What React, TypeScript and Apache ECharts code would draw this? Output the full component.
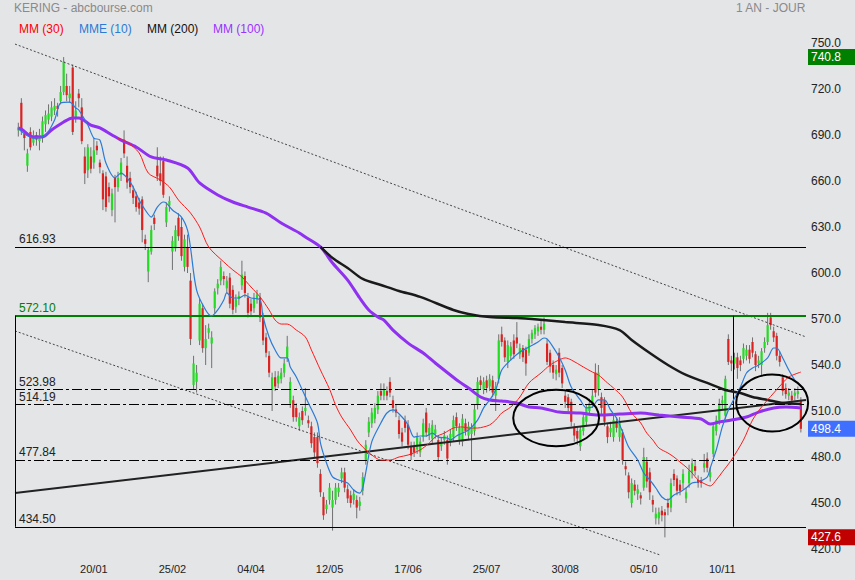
import React, { useEffect, useRef } from 'react';
import * as echarts from 'echarts';

// Daily candles [open, close, low, high], 16/12/2021 .. 16/12/2022 (index = trading day)
const ohlc: number[][] = [
  [693,695,689,698],[711,693,690,714],[691,688,680,693],[670,678,666,681],[692,682,680,695],
  [685,690,683,693],[690,687,683,692],[686,690,680,694],[688,699,685,702],[697,703,692,706],
  [700,704,697,710],[702,708,699,712],[706,709,703,714],[709,707,702,711],[712,718,710,722],
  [718,738,716,740.8],[722,716,712,730],[714,717,711,722],[734,692,690,736],[701,706,698,712],
  [717,714,708,720],[708,686,684,714],[676,665,658,682],[667,682,662,684],[676,668,665,682],
  [672,680,668,688],[683,680,677,686],[672,669,665,674],[665,648,641,667],[663,643,640,666],
  [656,650,646,659],[641,652,637,655],[662,656,633,664],[656,662,653,666],[664,672,660,675],
  [687,678,675,693],[670,659,655,676],[662,656,652,666],[654,649,645,657],[650,643,640,653],
  [646,642,638,649],[648,628,620,650],[622,619,615,625],[601,615,594,617],[614,628,612,631],
  [636,632,628,638],[670,663,660,682],[665,660,657,676],[673,651,649,676],[633,643,630,646],
  [644,647,640,650],[614,621,602,624],[616,628,614,631],[636,624,621,639],[630,611,608,636],
  [604,622,601,625],[617,604,600,625],[595,557,553,600],[527,541,524,546],[529,535,522,540],
  [556,580,553,583],[577,551,548,580],[551,557,540,566],[561,564,557,567],[554,558,538,562],
  [577,588,574,590],[590,593,586,596],[595,604,592,608],[598,596,592,601],[590,595,587,598],
  [597,580,577,600],[589,576,573,592],[578,583,574,586],[583,585,579,588],[592,599,589,608],
  [598,587,584,601],[584,574,571,587],[580,575,572,583],[577,584,574,587],[583,586,580,589],
  [584,571,568,587],[571,556,553,574],[558,548,545,561],[546,535,532,549],[524,532,510,535],
  [532,526,523,536],[528,533,525,536],[531,535,528,538],[535,541,532,544],[545,552,542,559],
  [515,529,512,532],[517,506,503,520],[512,506,503,515],[500,506,497,509],[510,504,501,513],
  [510,512,507,525],[504,502,499,507],[500,489,486,503],[493,483,480,496],[493,476,473,496],
  [469,457,454,472],[454,442,439,457],[446,449,443,452],[452,460,449,463],[447,452,432,458],
  [452,460,449,463],[457,460,454,463],[466,470,463,473],[470,460,457,473],[459,453,450,462],
  [455,450,447,458],[452,456,449,459],[452,447,440,455],[448,451,445,454],[458,467,455,470],
  [478,488,475,491],[496,503,493,506],[502,509,499,512],[505,512,502,515],[511,520,508,523],
  [523,520,517,528],[520,524,517,528],[523,520,517,526],[529,522,519,532],[517,512,509,520],
  [511,509,506,514],[504,495,492,507],[496,490,487,499],[504,499,496,507],[501,488,485,504],
  [487,481,478,490],[487,483,480,490],[485,493,482,496],[483,490,480,493],[493,502,490,505],
  [509,496,493,512],[494,499,491,502],[492,501,489,504],[495,498,492,501],[491,480,477,494],
  [487,490,484,493],[491,494,488,497],[491,479,475,494],[490,495,487,498],[493,504,490,507],
  [506,500,497,509],[491,499,488,502],[490,505,487,508],[502,497,494,505],[494,500,491,503],
  [495,499,478,502],[497,511,494,514],[514,529,511,532],[530,527,524,533],[524,529,521,532],
  [530,525,522,533],[526,531,523,534],[530,522,519,533],[520,526,510,529],[531,556,528,560],
  [560,555,552,565],[556,545,542,558],[542,553,538,556],[546,552,543,555],[556,547,544,560],
  [558,554,551,568],[547,551,544,554],[551,545,542,553],[550,541,533,552],[548,557,546,560],
  [557,561,554,563],[560,564,557,566],[562,565,559,567],[565,563,560,569],[563,567,560,571],
  [554,542,540,557],[548,539,535,550],[540,535,531,543],[534,537,530,540],[548,535,532,551],
  [538,528,525,540],[520,516,512,523],[519,512,510,521],[516,503,500,518],[499,494,490,502],
  [497,492,488,500],[487,498,484,500],[497,506,494,508],[503,512,500,514],[510,515,507,518],
  [515,520,512,524],[535,522,519,541],[524,535,520,540],[519,512,508,522],[517,503,500,519],
  [500,493,489,502],[496,499,493,503],[493,504,490,507],[503,499,496,506],[493,503,490,506],
  [496,478,475,498],[474,472,468,477],[468,457,453,470],[450,463,447,466],[462,458,455,465],
  [456,459,452,462],[455,453,449,457],[460,480,458,486],[477,464,460,480],[470,457,452,473],
  [452,449,444,455],[440,443,436,447],[440,444,436,447],[445,442,438,448],[444,442,427.6,446],
  [450,447,442,453],[447,463,444,466],[469,465,461,472],[466,458,455,468],[462,458,455,465],
  [463,469,459,472],[453,457,450,460],[463,471,460,475],[470,476,466,479],[474,471,468,478],
  [465,463,460,468],[465,463,460,467],[473,476,470,482],[479,473,470,483],[467,470,464,473],
  [482,500,480,502],[497,504,494,507],[504,515,501,518],[515,517,511,520],[507,531,505,533],
  [557,542,540,560],[543,541,536,546],[541,545,537,548],[545,538,531,548],[543,540,536,546],
  [544,551,541,554],[546,550,543,553],[550,544,541,553],[555,548,545,558],[547,540,536,549],
  [541,543,538,546],[540,549,533,551],[551,555,548,558],[555,566,553,574],[571,566,563,574],
  [562,558,555,565],[559,546,543,561],[546,542,539,549],[532,523,520,534],[525,521,518,528],
  [520,522,517,525],[520,517,514,523],[520,522,517,525],[521,523,518,526],[517,498.4,496,519],
];

const tickIndex = [25, 51, 77, 103, 129, 155, 181, 207, 233];
const tickLabels = ['20/01', '25/02', '04/04', '12/05', '17/06', '25/07', '30/08', '05/10', '10/11'];

// Moving averages: [day index, value]
const mme10: number[][] = [
  [0,694],[5,688],[9,690],[12,699.8],[14,710.9],[17,711.5],[19,707.6],[20,706.3],[23,696.5],[25,688],
  [27,686.7],[29,671.7],[32,662],[34,665.2],[36,662],[38,656.1],[40,647.6],[42,641.1],[44,636.5],[46,643],
  [48,646.3],[49,645.6],[51,641.1],[54,636.5],[56,628],[57,616.3],[59,588.9],[62,575.9],[64,572],[66,575.9],
  [68,582.4],[69,587],[71,583.7],[73,583.7],[75,585.6],[77,583.7],[80,582.4],[81,571.3],[83,558.3],[85,549.8],
  [87,544.6],[89,544.6],[90,538.7],[92,532.2],[94,523.7],[96,515.2],[99,502.2],[100,489.1],[102,476.1],[104,467],
  [106,465],[109,463],[111,458.5],[113,456.5],[114,460],[115,470],[117,490],[120,502.2],[122,508.7],[124,510.7],
  [127,506.1],[129,500.9],[131,493],[133,493.7],[135,493.7],[137,495.6],[139,493],[142,492.4],[143,491.1],[145,493.7],
  [147,495.6],[149,497.6],[152,504.1],[154,512],[156,517.2],[158,523.7],[160,536.7],[163,543.3],[166,548.5],[169,551.7],
  [172,555],[174,557.6],[175,557],[177,551.7],[179,545.2],[181,536.7],[183,525.6],[186,517.2],[188,512],[190,512.6],
  [192,517.2],[194,517.2],[196,510.7],[198,505.4],[200,496.3],[202,486.5],[205,478],[207,469.6],[209,465],[211,459.8],
  [213,453.9],[215,452],[217,455.2],[219,457.2],[221,459.8],[223,463],[225,463.7],[228,466.9],[229,472.8],[231,484.6],
  [233,499.6],[235,510.7],[236,514.6],[239,525.6],[241,534.8],[243,538],[245,540],[248,544.6],[250,551.1],[251,551.1],
  [253,544.6],[255,536.7],[257,530.2],[259,526.3],
];
const mm30: number[][] = [
  [33,688],[36,685.4],[40,678.3],[43,665.2],[47,660.7],[50,656.1],[53,647.6],[57,639.1],[60,630],[63,617],
  [68,607.2],[71,602],[74,597.4],[77,590.9],[80,584.4],[83,575.9],[85,569.3],[87,566.7],[89,566.7],[92,562.8],
  [95,558.3],[97,549.8],[100,536.7],[103,524.3],[105,513.9],[107,506.1],[110,497.6],[112,491.1],[114,486.5],[117,481.3],
  [120,478],[123,478],[126,480],[129,481.3],[133,484.6],[136,489.1],[138,493],[141,495.6],[144,498.9],[147,499.6],
  [149,498.9],[152,498.9],[154,499.6],[156,500.9],[158,504.1],[160,508.7],[163,512.6],[166,519.1],[169,528.3],[173,534.8],
  [176,540],[179,543.3],[181,544.6],[183,543.3],[187,538.7],[190,535.4],[192,533.5],[195,528.3],[197,525],[200,519.1],
  [203,508.7],[206,502.2],[208,495.6],[210,491.1],[212,485.9],[215,482.6],[217,480],[219,476.7],[221,473.5],[223,469.6],
  [225,465],[228,461.7],[229,461.1],[231,465],[233,470.2],[236,478],[240,491.1],[243,504.1],[246,512.6],[250,521.7],
  [253,528.3],[255,532.2],[259,535.4],
];
const mm100: number[][] = [
  [0,694.6],[1,693.9],[5,688.7],[8,688.7],[11,693.3],[15,698.5],[18,701.1],[20,701.1],[24,696.5],[27,694.6],
  [31,690],[34,686.7],[39,682.2],[44,675.7],[49,673.7],[56,668.5],[60,658.7],[66,650.9],[71,646.3],[76,643],
  [82,639.1],[87,632.6],[93,626.1],[95,623.5],[100,617],[104,606.5],[109,595.4],[113,583.7],[116,575.9],[119,571.3],
  [121,569.3],[124,562.8],[129,554.3],[134,547.8],[138,541.3],[143,533.5],[146,529],[149,525],[153,519.1],[156,517.2],
  [160,516.5],[165,515.2],[169,512.6],[173,512],[179,509.3],[186,508.7],[192,507.4],[199,508],[206,508.7],[212,507.4],
  [219,506.1],[226,504.8],[229,501.5],[232,502.8],[236,504.1],[241,506.1],[245,509.3],[250,512],[254,512.6],[259,512],
];
const mm200: number[][] = [
  [100,617],[104,609.8],[109,603.3],[114,596.1],[120,592.2],[126,588.3],[133,584.4],[144,575.9],[149,573.3],[156,571.3],
  [165,570.6],[170,570],[181,568],[192,566.1],[199,562.8],[203,556.3],[209,547.8],[215,540],[221,533.5],[228,528.3],
  [234,523.7],[239,521.7],[243,519.1],[248,517.2],[253,515.2],[259,514.6],
];

// Drawn annotations (data coordinates)
const solidLevels = [616.93, 434.5];
const greenLevel = 572.1;
const dashDotLevels = [523.98, 514.19, 477.84];
const upperTrend = [[-1.1, 749.3], [260.7, 558.3]];
const lowerTrend = [[-1.1, 562.2], [212.4, 416.1]];
const supportTrend = [[-1.1, 456.5], [260.7, 517.2]];
const boxX = [-1.1, 236.6];
const ellipses = [
  { cx: 178, cy: 505.4, rx: 14.2, ry: 18.4 },
  { cx: 249.5, cy: 515.2, rx: 11.9, ry: 18.6 },
];

const X_MIN = -1.1;
const X_MAX = 260.7;
const FONT = 'Liberation Sans, Arial, sans-serif';

export default function App() {
  const ref = useRef<HTMLDivElement>(null);
  useEffect(() => {
    if (!ref.current) return;
    const chart = echarts.init(ref.current, null, { renderer: 'svg' });
    const candleData = ohlc.map((d, i) => [i, d[0], d[1], d[2], d[3]]);
    const lastClose = ohlc[ohlc.length - 1][1];
    const maxHigh = Math.max(...ohlc.map((d) => d[3]));
    const minLow = Math.min(...ohlc.map((d) => d[2]));

    const levelLabel = (color: string) => ({
      show: true,
      position: 'insideStartTop',
      formatter: (p: any) => p.value.toFixed(2),
      color,
      fontSize: 12,
      fontFamily: FONT,
      distance: [4, 2],
    });
    const tag = (v: number, bg: string) => ({
      yAxis: v,
      lineStyle: { color: 'rgba(0,0,0,0)', width: 1, opacity: 1 },
      label: {
        show: true,
        position: 'end',
        formatter: v.toFixed(1),
        color: '#fff',
        backgroundColor: bg,
        fontSize: 12,
        fontFamily: FONT,
        padding: [2, 14, 2, 3],
        distance: 2,
      },
    });
    const dashDot = [10, 3, 3, 3];

    const texts: any[] = [
      { type: 'text', left: 14, top: 2, style: { text: 'KERING - abcbourse.com', fill: '#8a8a8a', font: `12px ${FONT}` } },
      { type: 'text', right: 49, top: 2, style: { text: '1 AN - JOUR', fill: '#8a8a8a', font: `12px ${FONT}` } },
      { type: 'text', left: 19, top: 23, style: { text: 'MM (30)', fill: '#ff0000', font: `12px ${FONT}` } },
      { type: 'text', left: 79, top: 23, style: { text: 'MME (10)', fill: '#2b7bd6', font: `12px ${FONT}` } },
      { type: 'text', left: 147, top: 23, style: { text: 'MM (200)', fill: '#111111', font: `12px ${FONT}` } },
      { type: 'text', left: 213, top: 23, style: { text: 'MM (100)', fill: '#9933ff', font: `12px ${FONT}` } },
    ];

    const option: any = {
      animation: false,
      backgroundColor: '#e4e5e7',
      textStyle: { fontFamily: FONT },
      grid: { left: 15, top: 43, width: 791, height: 506 },
      xAxis: {
        type: 'value',
        min: X_MIN,
        max: X_MAX,
        axisLine: { show: false },
        axisTick: { show: false },
        splitLine: { show: false },
        axisLabel: {
          customValues: tickIndex,
          formatter: (v: number) => {
            const k = tickIndex.indexOf(Math.round(v));
            return k >= 0 ? tickLabels[k] : '';
          },
          color: '#222',
          fontSize: 11,
          margin: 14,
        },
      },
      yAxis: {
        type: 'value',
        position: 'right',
        min: 420,
        max: 750,
        interval: 30,
        axisLine: { show: false },
        axisTick: { show: false },
        splitLine: { show: false },
        axisLabel: { formatter: (v: number) => v.toFixed(1), color: '#222', fontSize: 12, margin: 5 },
      },
      graphic: texts,
      series: [
        {
          type: 'custom',
          name: 'KERING',
          data: candleData,
          encode: { x: 0, y: [1, 2, 3, 4] },
          z: 2,
          renderItem: (params: any, api: any) => {
            const x = api.value(0);
            const o = api.value(1);
            const c = api.value(2);
            const pO = api.coord([x, o]);
            const pC = api.coord([x, c]);
            const pL = api.coord([x, api.value(3)]);
            const pH = api.coord([x, api.value(4)]);
            const top = Math.min(pO[1], pC[1]);
            const h = Math.max(1, Math.abs(pO[1] - pC[1]));
            return {
              type: 'group',
              children: [
                { type: 'line', shape: { x1: pL[0], y1: pL[1], x2: pH[0], y2: pH[1] }, style: { stroke: '#707070', lineWidth: 1 } },
                { type: 'rect', shape: { x: pO[0] - 1.1, y: top, width: 2.2, height: h }, style: { fill: c >= o ? '#22dd22' : '#dd2222' } },
              ],
            };
          },
        },
        {
          type: 'line', name: 'upper', data: upperTrend, showSymbol: false, silent: true, z: 3,
          lineStyle: { color: '#444', width: 1, type: [2, 2] },
        },
        {
          type: 'line', name: 'lower', data: lowerTrend, showSymbol: false, silent: true, clip: false, z: 3,
          lineStyle: { color: '#444', width: 1, type: [2, 2] },
        },
        {
          type: 'line', name: 'support', data: supportTrend, showSymbol: false, silent: true, z: 4,
          lineStyle: { color: '#222', width: 2 },
          markLine: {
            silent: true,
            symbol: ['none', 'none'],
            data: [
              ...solidLevels.map((v) => ({ yAxis: v, lineStyle: { color: '#000', width: 1, type: 'solid' }, label: levelLabel('#222') })),
              { yAxis: greenLevel, lineStyle: { color: '#008000', width: 2, type: 'solid' }, label: levelLabel('#008000') },
              ...dashDotLevels.map((v) => ({ yAxis: v, lineStyle: { color: '#000', width: 1, type: dashDot }, label: levelLabel('#222') })),
              ...boxX.map((bx) => [
                { coord: [bx, greenLevel], lineStyle: { color: '#000', width: 1, type: 'solid' }, label: { show: false } },
                { coord: [bx, solidLevels[1]] },
              ]),
            ],
          },
        },
        {
          type: 'line', name: 'tags', data: [], showSymbol: false, silent: true, z: 8,
          markLine: {
            silent: true,
            symbol: ['none', 'none'],
            data: [tag(maxHigh, '#008000'), tag(lastClose, '#3f6fff'), tag(minLow, '#c00000')],
          },
        },
        { type: 'line', name: 'MM (100)', data: mm100, smooth: 0.3, showSymbol: false, z: 5, lineStyle: { color: '#9030f0', width: 3 } },
        { type: 'line', name: 'MM (200)', data: mm200, smooth: 0.3, showSymbol: false, z: 5, lineStyle: { color: '#1a1a1a', width: 2.5 } },
        { type: 'line', name: 'MM (30)', data: mm30, smooth: 0.3, showSymbol: false, z: 6, lineStyle: { color: '#ff1a1a', width: 1 } },
        { type: 'line', name: 'MME (10)', data: mme10, smooth: 0.3, showSymbol: false, z: 6, lineStyle: { color: '#2b7bd6', width: 1.2 } },
      ],
    };
    chart.setOption(option);

    const ell = ellipses.map((e) => {
      const c = chart.convertToPixel({ gridIndex: 0 }, [e.cx, e.cy]) as number[];
      const r = chart.convertToPixel({ gridIndex: 0 }, [e.cx + e.rx, e.cy + e.ry]) as number[];
      return {
        type: 'ellipse',
        shape: { cx: c[0], cy: c[1], rx: Math.abs(r[0] - c[0]), ry: Math.abs(c[1] - r[1]) },
        style: { fill: 'none', stroke: '#000', lineWidth: 2 },
        z: 10,
        silent: true,
      };
    });
    chart.setOption({ graphic: [...texts, ...ell] });

    return () => chart.dispose();
  }, []);

  return <div ref={ref} style={{ position: 'absolute', left: 0, top: 0, width: 855, height: 580 }} />;
}
